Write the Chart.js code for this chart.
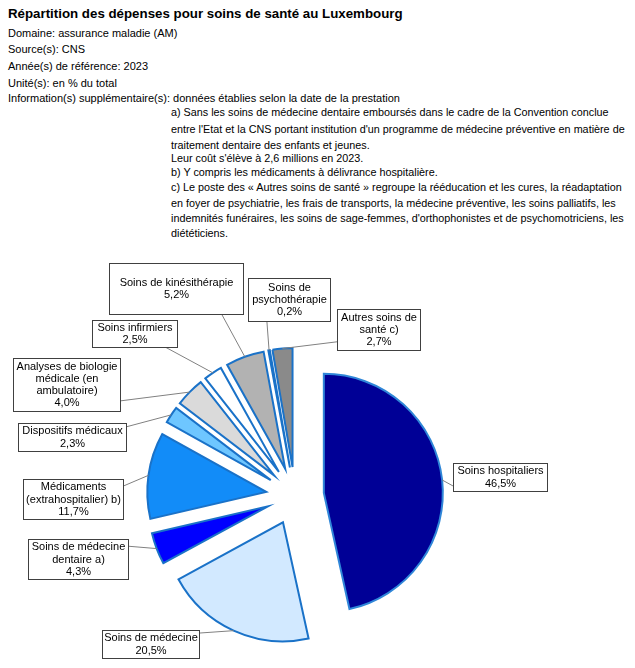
<!DOCTYPE html>
<html><head><meta charset="utf-8">
<script src="https://cdn.jsdelivr.net/npm/chart.js@4.4.1/dist/chart.umd.min.js"></script>
<style>
html,body{margin:0;padding:0;background:#fff;width:635px;height:668px;overflow:hidden;}
#wrap{position:relative;width:635px;height:668px;}
.t{position:absolute;white-space:nowrap;font-family:"Liberation Sans",Arial,sans-serif;font-size:11px;line-height:14px;color:#000;}
.n{font-size:10.8px;}
#title{font-weight:bold;font-size:13.3px;line-height:18px;}
canvas{position:absolute;left:0;top:0;}
</style></head>
<body><div id="wrap">
<div class="t" id="title" style="left:8px;top:5px">Répartition des dépenses pour soins de santé au Luxembourg</div>
<div class="t" style="left:8px;top:26px">Domaine: assurance maladie (AM)</div>
<div class="t" style="left:8px;top:42px">Source(s): CNS</div>
<div class="t" style="left:8px;top:59px">Année(s) de référence: 2023</div>
<div class="t" style="left:8px;top:76px">Unité(s): en % du total</div>
<div class="t" style="left:8px;top:91px">Information(s) supplémentaire(s): données établies selon la date de la prestation</div>
<div class="t n" style="left:171px;top:105px">a) Sans les soins de médecine dentaire emboursés dans le cadre de la Convention conclue</div>
<div class="t n" style="left:171px;top:122px">entre l'Etat et la CNS portant institution d'un programme de médecine préventive en matière de</div>
<div class="t n" style="left:171px;top:138px">traitement dentaire des enfants et jeunes.</div>
<div class="t n" style="left:171px;top:151px">Leur coût s'élève à 2,6 millions en 2023.</div>
<div class="t n" style="left:171px;top:165px">b) Y compris les médicaments à délivrance hospitalière.</div>
<div class="t n" style="left:171px;top:180px">c) Le poste des « Autres soins de santé » regroupe la rééducation et les cures, la réadaptation</div>
<div class="t n" style="left:171px;top:196px">en foyer de psychiatrie, les frais de transports, la médecine préventive, les soins palliatifs, les</div>
<div class="t n" style="left:171px;top:211px">indemnités funéraires, les soins de sage-femmes, d'orthophonistes et de psychomotriciens, les</div>
<div class="t n" style="left:171px;top:226px">diététiciens.</div>
<canvas id="c" width="635" height="668"></canvas>
</div>
<script>
// ---- data ----
const categories = ["Soins hospitaliers","Soins de médecine","Soins de médecine dentaire a)","Médicaments (extrahospitalier) b)","Dispositifs médicaux","Analyses de biologie médicale (en ambulatoire)","Soins infirmiers","Soins de kinésithérapie","Soins de psychothérapie","Autres soins de santé c)"];
const labelLines = [
  ["Soins hospitaliers"],
  ["Soins de médecine"],
  ["Soins de médecine","dentaire a)"],
  ["Médicaments","(extrahospitalier) b)"],
  ["Dispositifs médicaux"],
  ["Analyses de biologie","médicale (en","ambulatoire)"],
  ["Soins infirmiers"],
  ["Soins de kinésithérapie"],
  ["Soins de","psychothérapie"],
  ["Autres soins de","santé c)"]
];
const values = [46.5, 20.5, 4.3, 11.7, 2.3, 4.0, 2.5, 5.2, 0.2, 2.7];

// ---- styles ----
const fillColors = ["#000096","#D2E9FF","#0000FF","#128CF8","#6EC6FF","#DADADA","#FFFFFF","#B2B2B2","#1070D0","#8A8A8A"];
const borderColors = ["#2F86D8","#1A72C8","#1A72C8","#1A72C8","#1A72C8","#1A72C8","#1A72C8","#1A72C8","#1A72C8","#1A72C8"];
const RADIUS = 119;
const EXPLODE = 29;
// label boxes: left, top, width, height, anchor fraction (ax, ay)
const boxes = [
  {x:453,y:463,w:94,h:28,ax:0,ay:0.82},
  {x:102,y:630,w:97,h:28,ax:1,ay:0.11},
  {x:28,y:539,w:100,h:40,ax:1,ay:0.18},
  {x:23,y:479,w:100,h:40,ax:1,ay:0.18},
  {x:18,y:423,w:108,h:28,ax:1,ay:0.14},
  {x:13,y:358,w:107,h:53,ax:1,ay:0.81},
  {x:92,y:320,w:85,h:27,ax:0.86,ay:1},
  {x:109,y:263,w:134,h:51,ax:0.84,ay:1},
  {x:248,y:278,w:82,h:43,ax:0.23,ay:1},
  {x:337,y:309,w:83,h:41,ax:0,ay:0.8}
];
const LINE_H = 12.3;
const FONT = '11px "Liberation Sans", Arial, sans-serif';

const fmtPct = v => v.toFixed(1).replace('.', ',') + '%';

// explode every slice outward along its mid-angle
const explode = {
  id:'explode',
  beforeDatasetsDraw(chart){
    const ca = chart.chartArea;
    const cx = (ca.left+ca.right)/2, cy = (ca.top+ca.bottom)/2;
    chart.getDatasetMeta(0).data.forEach(a=>{
      const mid = (a.startAngle+a.endAngle)/2;
      a.x = cx + Math.cos(mid)*EXPLODE;
      a.y = cy + Math.sin(mid)*EXPLODE;
    });
  }
};

const calloutLabels = {
  id:'calloutLabels',
  afterDatasetsDraw(chart){
    const ctx = chart.ctx;
    const meta = chart.getDatasetMeta(0);
    ctx.save();
    meta.data.forEach((arc,i)=>{
      const mid = (arc.startAngle+arc.endAngle)/2;
      const px = arc.x + Math.cos(mid)*arc.outerRadius;
      const py = arc.y + Math.sin(mid)*arc.outerRadius;
      const b = boxes[i];
      const ax = b.x + b.w*b.ax, ay = b.y + b.h*b.ay;
      ctx.strokeStyle = '#808080';
      ctx.lineWidth = 1;
      ctx.beginPath(); ctx.moveTo(px,py); ctx.lineTo(ax,ay); ctx.stroke();
      ctx.fillStyle = '#fff';
      ctx.fillRect(b.x,b.y,b.w,b.h);
      ctx.strokeStyle = '#404040';
      ctx.strokeRect(b.x+0.5,b.y+0.5,b.w,b.h);
      const lines = labelLines[i].concat([fmtPct(values[i])]);
      ctx.fillStyle = '#000';
      ctx.font = FONT;
      ctx.textAlign = 'center';
      ctx.textBaseline = 'middle';
      const cy = b.y + b.h/2 + 0.5;
      const y0 = cy - (lines.length-1)*LINE_H/2;
      lines.forEach((l,k)=>ctx.fillText(l, b.x+b.w/2+0.5, y0+k*LINE_H));
    });
    ctx.restore();
  }
};

new Chart(document.getElementById('c'), {
  type:'pie',
  data:{
    labels: categories,
    datasets:[{
      data: values,
      backgroundColor: fillColors,
      borderColor: borderColors,
      borderWidth: 2,
      borderJoinStyle: 'miter',
      radius: RADIUS
    }]
  },
  options:{
    responsive:false,
    animation:false,
    events:[],
    layout:{padding:{left:0,right:45,top:324,bottom:0}},
    plugins:{legend:{display:false},tooltip:{enabled:false},title:{display:false}}
  },
  plugins:[explode, calloutLabels]
});
</script>
</body></html>
